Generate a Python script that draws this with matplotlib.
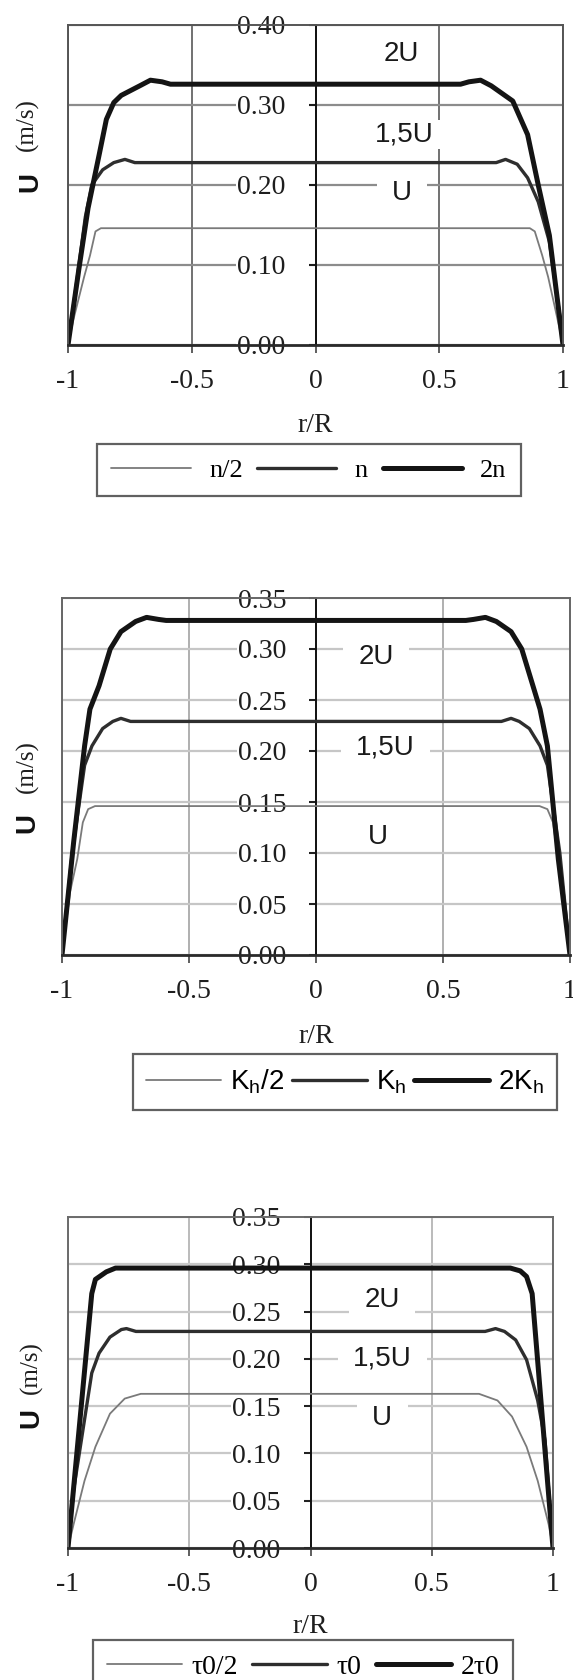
import matplotlib
matplotlib.use("Agg")
import matplotlib.pyplot as plt
from matplotlib.path import Path

# ---------------------------------------------------------------- data
# radial position r/R and axial velocity U (m/s) for three cases per panel

# Panel 1 – rotation speed n
p1_r_low = [-1.0, -0.978, -0.935, -0.911, -0.889, -0.867, -0.84,
            0.84, 0.866, 0.886, 0.916, 0.94, 0.978, 1.0]
p1_u_low = [0.0, 0.032, 0.085, 0.112, 0.142, 0.146, 0.146,
            0.146, 0.146, 0.142, 0.112, 0.085, 0.032, 0.0]
p1_r_mid = [-1.0, -0.963, -0.93, -0.904, -0.86, -0.815, -0.77, -0.73,
            0.73, 0.768, 0.815, 0.857, 0.90, 0.945, 0.99, 1.0]
p1_u_mid = [0.0, 0.083, 0.160, 0.200, 0.219, 0.228, 0.232, 0.228,
            0.228, 0.232, 0.226, 0.209, 0.179, 0.129, 0.030, 0.0]
p1_r_high = [-1.0, -0.956, -0.919, -0.874, -0.845, -0.815, -0.785, -0.71, -0.667, -0.62, -0.586,
             0.586, 0.62, 0.667, 0.71, 0.797, 0.857, 0.90, 0.945, 1.0]
p1_u_high = [0.0, 0.095, 0.171, 0.238, 0.282, 0.303, 0.312, 0.324, 0.331, 0.329, 0.326,
             0.326, 0.329, 0.331, 0.324, 0.305, 0.263, 0.200, 0.137, 0.0]

# Panel 2 – coefficient Kh
p2_r_low = [-1.0, -0.968, -0.94, -0.918, -0.897, -0.87,
            0.88, 0.911, 0.933, 0.954, 0.975, 1.0]
p2_u_low = [0.0, 0.062, 0.094, 0.130, 0.143, 0.146,
            0.146, 0.143, 0.130, 0.094, 0.050, 0.0]
p2_r_mid = [-1.0, -0.96, -0.911, -0.882, -0.84, -0.80, -0.768, -0.73,
            0.73, 0.768, 0.80, 0.84, 0.882, 0.911, 0.96, 1.0]
p2_u_mid = [0.0, 0.100, 0.186, 0.205, 0.222, 0.229, 0.232, 0.229,
            0.229, 0.232, 0.229, 0.222, 0.205, 0.186, 0.100, 0.0]
p2_r_high = [-1.0, -0.954, -0.911, -0.89, -0.854, -0.81, -0.768, -0.71, -0.667, -0.62, -0.59,
             0.59, 0.62, 0.667, 0.71, 0.768, 0.81, 0.854, 0.882, 0.911, 0.954, 1.0]
p2_u_high = [0.0, 0.111, 0.205, 0.241, 0.264, 0.300, 0.317, 0.327, 0.331, 0.329, 0.328,
             0.328, 0.329, 0.331, 0.327, 0.317, 0.300, 0.264, 0.241, 0.205, 0.094, 0.0]

# Panel 3 – yield stress tau0
p3_r_low = [-1.0, -0.977, -0.932, -0.887, -0.827, -0.766, -0.70,
            0.695, 0.771, 0.831, 0.891, 0.937, 0.982, 1.0]
p3_u_low = [0.0, 0.025, 0.071, 0.107, 0.142, 0.158, 0.163,
            0.163, 0.156, 0.139, 0.107, 0.071, 0.025, 0.0]
p3_r_mid = [-1.0, -0.977, -0.902, -0.872, -0.827, -0.78, -0.759, -0.72,
            0.72, 0.763, 0.80, 0.846, 0.891, 0.937, 0.967, 1.0]
p3_u_mid = [0.0, 0.061, 0.185, 0.206, 0.223, 0.231, 0.232, 0.229,
            0.229, 0.232, 0.229, 0.220, 0.199, 0.156, 0.114, 0.0]
p3_r_high = [-1.0, -0.902, -0.887, -0.842, -0.804,
             0.824, 0.865, 0.891, 0.914, 1.0]
p3_u_high = [0.0, 0.269, 0.284, 0.292, 0.296,
             0.296, 0.293, 0.287, 0.269, 0.0]

p1_legend = ["n/2", "n", "2n"]
p2_legend = [r"K$_\mathregular{h}$/2", r"K$_\mathregular{h}$", r"2K$_\mathregular{h}$"]
p3_legend = ["τ0/2", "τ0", "2τ0"]

curve_tags = ["U", "1,5U", "2U"]
p1_tag_pos = [(0.349, 0.190), (0.360, 0.263), (0.346, 0.364)]
p2_tag_pos = [(0.244, 0.116), (0.273, 0.203), (0.237, 0.292)]
p3_tag_pos = [(0.296, 0.137), (0.296, 0.200), (0.296, 0.262)]

x_ticks = [-1, -0.5, 0, 0.5, 1]
x_tick_labels = ["-1", "-0.5", "0", "0.5", "1"]
p1_y_ticks = [0.0, 0.1, 0.2, 0.3, 0.4]
p23_y_ticks = [0.0, 0.05, 0.10, 0.15, 0.20, 0.25, 0.30, 0.35]

# ---------------------------------------------------------------- style
SERIF = ["Liberation Serif", "DejaVu Serif"]
SANS = ["Liberation Sans", "DejaVu Sans"]
plt.rcParams["font.family"] = SERIF
plt.rcParams["axes.unicode_minus"] = False

W, H = 573, 1680
fig = plt.figure(figsize=(W / 100, H / 100), dpi=100)

line_styles = [dict(color="#7a7a7a", lw=1.3),
               dict(color="#2e2e2e", lw=2.4),
               dict(color="#141414", lw=3.6)]


def box_style(padx, pady, extra_right=0.0):
    """Rectangular text box with separate horizontal/vertical padding."""
    def style(x0, y0, width, height, mutation_size):
        px, py = padx * mutation_size, pady * mutation_size
        er = extra_right * mutation_size
        x1, y1 = x0 + width + px + er, y0 + height + py
        xa, ya = x0 - px, y0 - py
        return Path([(xa, ya), (x1, ya), (x1, y1), (xa, y1), (xa, ya)],
                    [Path.MOVETO, Path.LINETO, Path.LINETO, Path.LINETO, Path.CLOSEPOLY])
    return style


def rect(left, top, right, bottom):
    return [left / W, 1 - bottom / H, (right - left) / W, (bottom - top) / H]


def make_panel(box, curves, y_ticks, ymax, tags, tag_pos, labels, legend_font,
               legend_center, legend_kw, xlabel_pad, ylab_u, ylab_units,
               hgrid, vgrid, frame):
    ax = fig.add_axes(rect(*box))
    ax.set_xlim(-1, 1)
    ax.set_ylim(0, ymax)
    ax.set_axisbelow(True)

    handles = []
    for (r, u), st in zip(curves, line_styles):
        h, = ax.plot(r, u, solid_joinstyle="round", solid_capstyle="round",
                     zorder=2, **st)
        handles.append(h)

    # grid
    ax.set_yticks(y_ticks)
    ax.set_xticks(x_ticks, labels=x_tick_labels)
    ax.yaxis.grid(True, color=hgrid, lw=1.6)
    ax.xaxis.grid(True, color=vgrid, lw=1.1)
    ax.tick_params(axis="y", left=False, labelleft=False)
    ax.tick_params(axis="x", direction="out", length=5.5, width=1.1,
                   color="#333333", pad=12, labelsize=20, labelcolor="#1e1e1e")
    for sp in ax.spines.values():
        sp.set_color(frame)
        sp.set_linewidth(1.4)
    ax.spines["bottom"].set_color("#2a2a2a")
    ax.spines["bottom"].set_linewidth(2.0)

    # value axis drawn through r/R = 0
    sec = ax.secondary_yaxis(0.5)
    sec.set_alignment("left")
    sec.set_zorder(1.5)
    sec.set_yticks(y_ticks, labels=[f"{v:.2f}" for v in y_ticks])
    sec.tick_params(axis="y", direction="out", length=5.5, width=1.3,
                    color="#111111", pad=16, labelsize=20, labelcolor="#1e1e1e")
    for sp in sec.spines.values():
        sp.set_color("#111111")
        sp.set_linewidth(1.4)
    for t in sec.yaxis.get_major_ticks():
        for lab in (t.label1, t.label2):
            lab.set_bbox(dict(boxstyle=box_style(0.04, 0.0, 0.8),
                              fc="white", ec="none"))

    ax.set_xlabel("r/R", fontsize=20, labelpad=xlabel_pad, color="#1e1e1e")

    for text, (x, y) in zip(tags, tag_pos):
        ax.text(x, y, text, family=SANS, fontsize=20, ha="center", va="center",
                color="#1a1a1a", zorder=3,
                bbox=dict(boxstyle=box_style(0.55, 0.05), fc="white", ec="none"))

    lx, ly = legend_center
    leg = ax.legend(handles, labels, loc="center", ncol=3,
                    bbox_to_anchor=(lx / W, 1 - ly / H),
                    bbox_transform=fig.transFigure, prop=legend_font,
                    frameon=True, fancybox=False, borderaxespad=0, **legend_kw)
    leg.get_frame().set_edgecolor("#3a3a3a")
    leg.get_frame().set_linewidth(1.6)

    ux, uy = ylab_u
    fig.text(ux / W, 1 - uy / H, "U", family=SANS, fontweight="bold", fontsize=20,
             rotation=90, ha="center", va="center", color="#111111")
    mx, my = ylab_units
    fig.text(mx / W, 1 - my / H, "(m/s)", fontsize=18, rotation=90,
             ha="center", va="center", color="#1e1e1e")
    return ax


make_panel((68, 25, 563, 345),
           [(p1_r_low, p1_u_low), (p1_r_mid, p1_u_mid), (p1_r_high, p1_u_high)],
           p1_y_ticks, 0.40, curve_tags, p1_tag_pos, p1_legend,
           dict(family=SERIF, size=19), (309, 470),
           dict(handlelength=3.0, handletextpad=0.7, columnspacing=0.55, borderpad=0.55),
           13.5, (30, 182), (27, 125),
           hgrid="#8c8c8c", vgrid="#4a4a4a", frame="#555555")

make_panel((62, 598, 570, 955),
           [(p2_r_low, p2_u_low), (p2_r_mid, p2_u_mid), (p2_r_high, p2_u_high)],
           p23_y_ticks, 0.35, curve_tags, p2_tag_pos, p2_legend,
           dict(family=SANS, size=20), (345, 1082),
           dict(handlelength=2.7, handletextpad=0.3, columnspacing=0.3, borderpad=0.5),
           14, (27, 823), (27, 767),
           hgrid="#c6c6c6", vgrid="#9a9a9a", frame="#666666")

make_panel((68, 1217, 553, 1548),
           [(p3_r_low, p3_u_low), (p3_r_mid, p3_u_mid), (p3_r_high, p3_u_high)],
           p23_y_ticks, 0.35, curve_tags, p3_tag_pos, p3_legend,
           dict(family=SERIF, size=20), (303, 1667),
           dict(handlelength=2.7, handletextpad=0.35, columnspacing=0.5, borderpad=0.5),
           12, (31, 1418), (31, 1368),
           hgrid="#c8c8c8", vgrid="#a8a8a8", frame="#6a6a6a")

fig.savefig("out.png", dpi=100, facecolor="white")
